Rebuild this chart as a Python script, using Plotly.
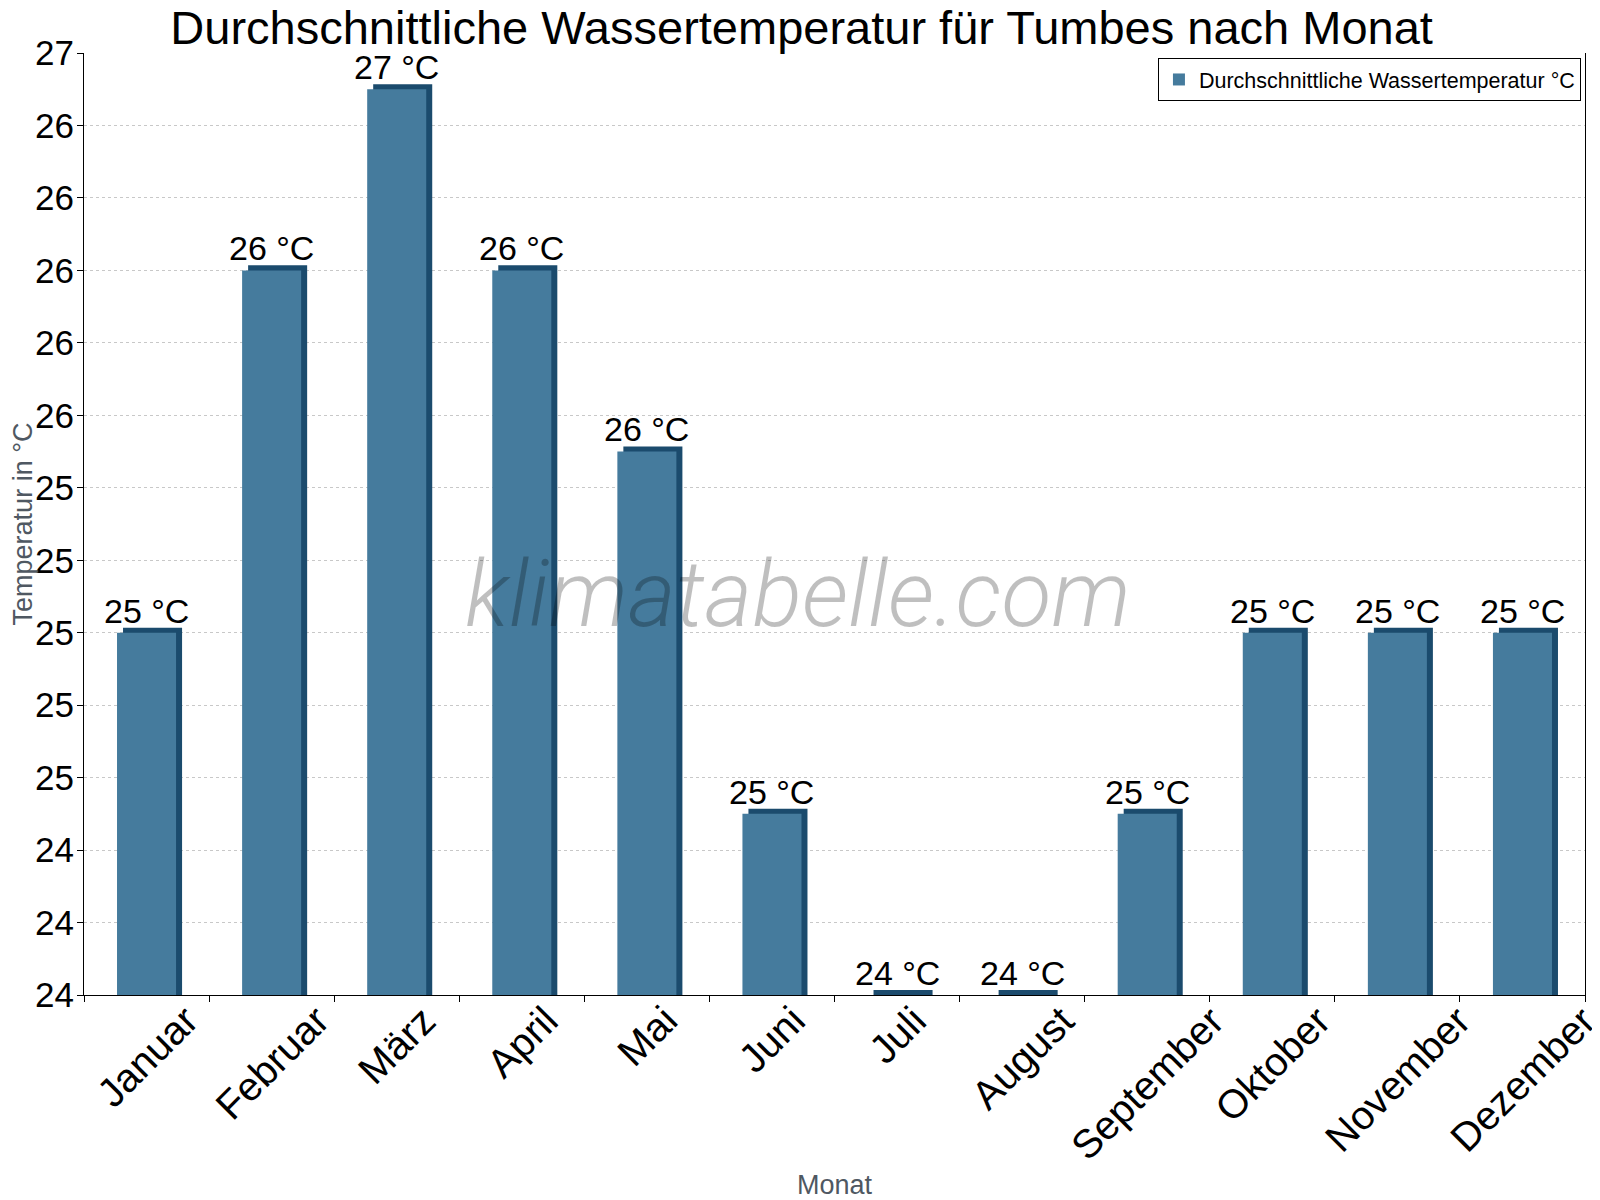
import plotly.graph_objects as go

# Data
monate = ["Januar", "Februar", "März", "April", "Mai", "Juni", "Juli",
          "August", "September", "Oktober", "November", "Dezember"]
wassertemp = [25.0, 26.0, 26.5, 26.0, 25.5, 24.5, 24.0, 24.0, 24.5, 25.0, 25.0, 25.0]
labels = [f"{int(v + 0.5)} °C" for v in wassertemp]

# Style
farbe_hell = "#457B9D"
farbe_dunkel = "#1B4B6D"
y_min = 24.0
tiefe = 0.014   # 3D depth of the bar top (in axis units)
bar_w = 0.472
side = 0.048

fig = go.Figure()

# dark "3D" body, shifted right/up a little
fig.add_trace(go.Bar(
    x=monate, y=[v + tiefe - y_min for v in wassertemp], base=y_min,
    width=bar_w, offset=-bar_w / 2 + side,
    marker=dict(color=farbe_dunkel, line=dict(width=0)),
    showlegend=False, hoverinfo="skip",
))
# front face
fig.add_trace(go.Bar(
    x=monate, y=[v - y_min for v in wassertemp], base=y_min,
    width=bar_w, offset=-bar_w / 2,
    marker=dict(color=farbe_hell, line=dict(color=farbe_dunkel, width=0)),
    name="Durchschnittliche Wassertemperatur °C",
))

fig.update_layout(
    width=1600, height=1200,
    barmode="overlay",
    plot_bgcolor="white", paper_bgcolor="white",
    margin=dict(l=76, r=23, t=45, b=213),
    font=dict(family="Liberation Sans, Arial", color="black"),
    title=dict(text="Durchschnittliche Wassertemperatur für Tumbes nach Monat",
               x=0.496, xanchor="center", y=1 - 20 / 1200, yanchor="middle",
               yref="container", font=dict(size=47, color="black")),
    legend=dict(x=0.9973, y=0.9947, xanchor="right", yanchor="top",
                bgcolor="white", bordercolor="black", borderwidth=1,
                font=dict(size=21.5, color="black")),
    xaxis=dict(
        title=dict(text="Monat", standoff=180, font=dict(size=27, color="#4f5862")),
        range=[-0.5, len(monate) - 0.5],
        showticklabels=False,
        showline=True, linecolor="black", linewidth=1,
        ticks="outside", ticklen=6, tickcolor="black", tickson="boundaries",
        showgrid=False, automargin=False,
    ),
    yaxis=dict(
        title=dict(text="Temperatur in °C", standoff=13, font=dict(size=27, color="#4f5862")),
        range=[y_min, 26.6001], tick0=y_min, dtick=0.2, tickformat=".0f",
        tickfont=dict(size=35), ticklabelstandoff=-4,
        showline=True, linecolor="black", linewidth=1, mirror=True,
        ticks="outside", ticklen=6, tickcolor="black",
        showgrid=True, gridcolor="#c8c8c8", griddash="dot", gridwidth=1,
        zeroline=False, automargin=False,
    ),
)

# value labels above the bars
for m, v, t in zip(monate, wassertemp, labels):
    fig.add_annotation(
        text=t, x=m, y=v + tiefe, xref="x", yref="y",
        xanchor="center", yanchor="bottom", yshift=-4, showarrow=False,
        font=dict(size=34, color="black"),
    )

# month labels, rotated around their centre below each category
for m in monate:
    fig.add_annotation(
        text=m, x=m, xref="x", y=0.0, yref="paper",
        xanchor="center", yanchor="top", textangle=-45, showarrow=False,
        font=dict(size=40, color="black"),
    )

fig.add_annotation(
    text="klimatabelle.com", xref="paper", yref="paper", x=0.476, y=0.425,
    showarrow=False,
    font=dict(family="Roboto", size=92, color="rgba(0,0,0,0.25)", style="italic", weight=300),
)

fig.write_html("out.html")
